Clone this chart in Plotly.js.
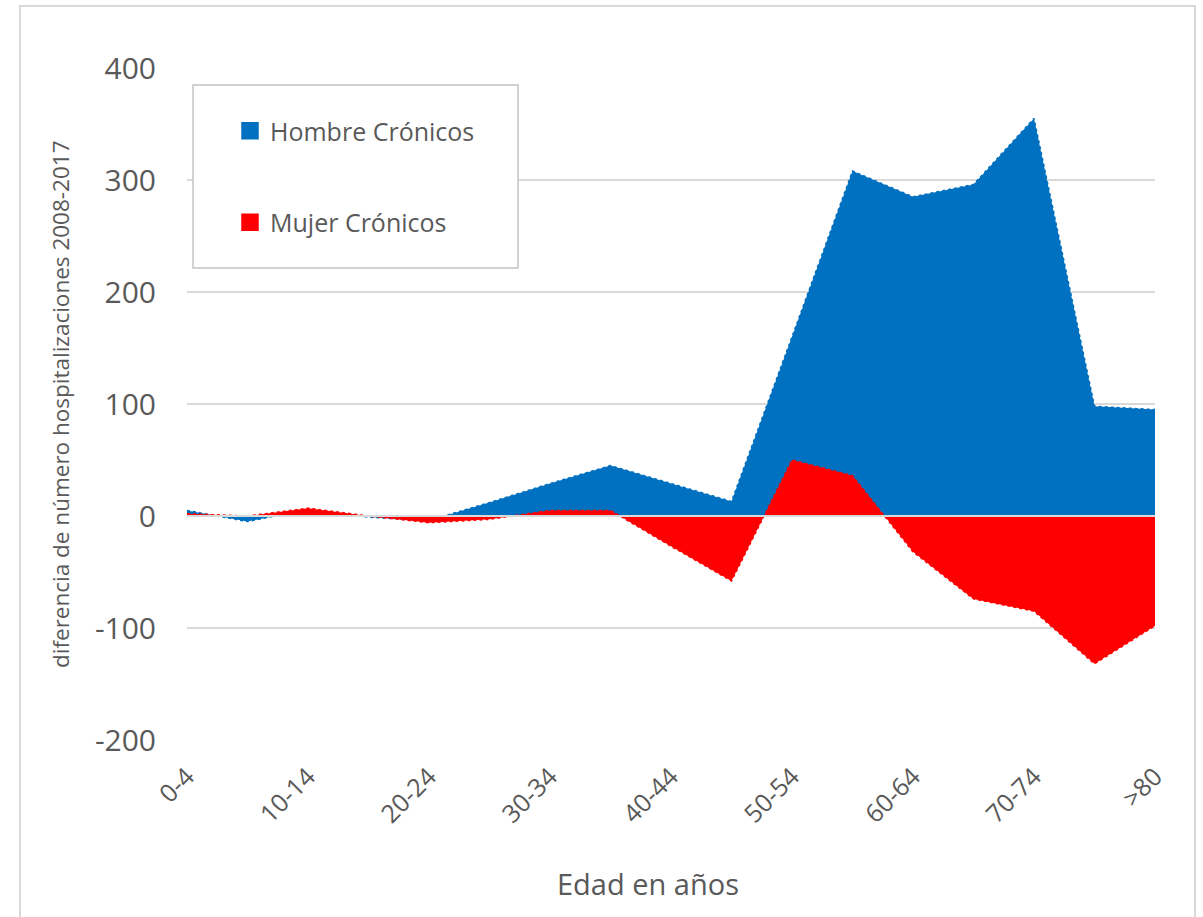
<!DOCTYPE html>
<html>
<head>
<meta charset="utf-8">
<script src="https://cdn.plot.ly/plotly-3.0.1.min.js"></script>
<style>
  html, body { margin: 0; padding: 0; background: #ffffff; }
  #chart { width: 1203px; height: 917px; }
</style>
</head>
<body>
<div id="chart"></div>
<script>
// Age groups (x categories)
const categories = ['0-4', '5-9', '10-14', '15-19', '20-24', '25-29', '30-34', '35-39',
  '40-44', '45-49', '50-54', '55-59', '60-64', '65-69', '70-74', '75-79', '>80'];

// Labelled ticks on the x axis (every other age group)
const tickLabels = ['0-4', '10-14', '20-24', '30-34', '40-44', '50-54', '60-64', '70-74', '>80'];

// Y axis ticks (plain hyphen for negatives)
const yTickValues = [-200, -100, 0, 100, 200, 300, 400];
const yTickLabels = ['-200', '-100', '0', '100', '200', '300', '400'];

// Change in number of hospitalisations 2008-2017
const hombreCronicos = [5, -5, 6, -1, -4, 12, 29, 45, 29, 13, 160, 308, 285, 296, 355, 98, 95];
const mujerCronicos = [2, 0, 7, 0, -6, -3, 5, 5, -27, -58, 50, 36, -32, -74, -85, -132, -98];

const seriesNames = ['Hombre Crónicos', 'Mujer Crónicos'];
const seriesColors = ['#0070C0', '#FF0000'];

// Figure geometry (px)
const W = 1203, H = 917;
const M = { l: 187, r: 48, t: 68, b: 177 };
const plotW = W - M.l - M.r;
const plotH = H - M.t - M.b;
const px2x = px => (px - M.l) / plotW;
const px2y = py => (H - M.b - py) / plotH;

const textColor = '#595959';
const font = 'Open Sans, "DejaVu Sans", sans-serif';

function areaTrace(values, i) {
  return {
    type: 'scatter',
    mode: 'lines',
    x: categories,
    y: values,
    name: seriesNames[i],
    fill: 'tozeroy',
    fillcolor: seriesColors[i],
    line: { color: seriesColors[i], width: 1.5, dash: 'dot' },
    legendgroup: 'g' + i,
    showlegend: false,
    hoverinfo: 'x+y+name'
  };
}

// Legend entries with square swatches
function legendTrace(i) {
  return {
    type: 'scatter',
    mode: 'markers',
    x: [null],
    y: [null],
    name: seriesNames[i],
    legendgroup: 'g' + i,
    showlegend: true,
    marker: { symbol: 'square', size: 18, color: seriesColors[i],
              line: { color: seriesColors[i], width: 1.5 } }
  };
}

const data = [
  areaTrace(hombreCronicos, 0),
  areaTrace(mujerCronicos, 1),
  legendTrace(0),
  legendTrace(1)
];

const layout = {
  width: W,
  height: H,
  margin: M,
  paper_bgcolor: '#ffffff',
  plot_bgcolor: '#ffffff',
  font: { family: font, color: textColor },
  showlegend: true,
  legend: {
    x: px2x(230),
    y: px2y(108),
    xanchor: 'left',
    yanchor: 'top',
    bgcolor: 'rgba(0,0,0,0)',
    borderwidth: 0,
    traceorder: 'grouped',
    tracegroupgap: 56,
    font: { family: font, size: 25, color: textColor }
  },
  xaxis: {
    type: 'category',
    categoryorder: 'array',
    categoryarray: categories,
    range: [0, categories.length - 1],
    tickmode: 'array',
    tickvals: tickLabels,
    ticktext: tickLabels,
    tickangle: -45,
    tickfont: { family: font, size: 25, color: textColor },
    ticks: '',
    ticklabelstandoff: 16,
    showgrid: false,
    zeroline: false,
    showline: false,
    automargin: false,
    fixedrange: true
  },
  yaxis: {
    range: [-200, 400],
    tickmode: 'array',
    tickvals: yTickValues,
    ticktext: yTickLabels,
    tickfont: { family: font, size: 30, color: textColor },
    ticks: '',
    ticklabelstandoff: 30,
    showgrid: true,
    gridcolor: '#d9d9d9',
    gridwidth: 1.5,
    zeroline: false,
    showline: false,
    automargin: false,
    fixedrange: true
  },
  shapes: [
    // horizontal axis line at zero, over the areas
    { type: 'line', xref: 'paper', yref: 'y', x0: 0, x1: 1, y0: 0, y1: 0,
      line: { color: '#d9d9d9', width: 2 }, layer: 'above' },
    // legend frame
    { type: 'rect', xref: 'paper', yref: 'paper',
      x0: px2x(193), x1: px2x(518), y0: px2y(268), y1: px2y(85),
      line: { color: '#c4c4c4', width: 1.5 }, fillcolor: '#ffffff', layer: 'above' },
    // chart frame
    { type: 'rect', xref: 'paper', yref: 'paper',
      x0: px2x(20), x1: px2x(1195), y0: px2y(940), y1: px2y(6),
      line: { color: '#d9d9d9', width: 2 }, layer: 'below' }
  ],
  annotations: [
    { text: 'diferencia de número hospitalizaciones 2008-2017',
      xref: 'paper', yref: 'paper', x: px2x(60), y: 0.5,
      xanchor: 'center', yanchor: 'middle', textangle: -90, showarrow: false,
      font: { family: font, size: 22.5, color: textColor } },
    { text: 'Edad en años',
      xref: 'paper', yref: 'paper', x: px2x(648), y: px2y(883),
      xanchor: 'center', yanchor: 'middle', showarrow: false,
      font: { family: font, size: 29, color: textColor } }
  ]
};

Plotly.newPlot('chart', data, layout, { displayModeBar: false, staticPlot: true });
</script>
</body>
</html>
